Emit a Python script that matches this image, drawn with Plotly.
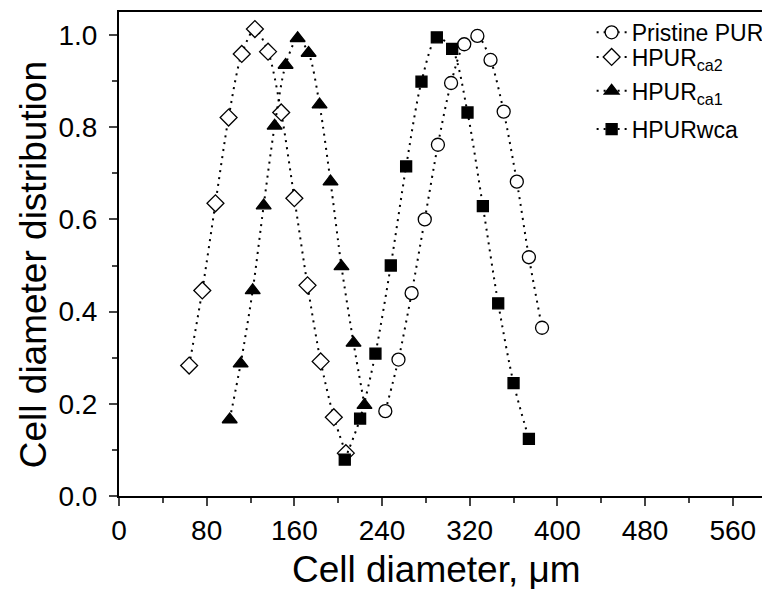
import plotly.graph_objects as go

pristine_x = [243, 255, 267, 279, 291, 303, 315, 327, 339, 351, 363, 374, 386]
pristine_y = [0.184, 0.296, 0.440, 0.600, 0.762, 0.896, 0.980, 0.998, 0.946, 0.834, 0.682, 0.518, 0.365]

ca2_x = [64, 76, 88, 100, 112, 124, 136, 148, 160, 172, 184, 196, 207]
ca2_y = [0.283, 0.446, 0.635, 0.821, 0.959, 1.013, 0.964, 0.832, 0.646, 0.457, 0.292, 0.171, 0.093]

ca1_x = [101, 111, 122, 132, 142, 152, 163, 173, 183, 193, 203, 214, 224]
ca1_y = [0.166, 0.287, 0.446, 0.630, 0.803, 0.935, 0.993, 0.961, 0.849, 0.682, 0.498, 0.332, 0.197]

wca_x = [206, 220, 234, 248, 262, 276, 290, 304, 318, 332, 346, 360, 374]
wca_y = [0.079, 0.168, 0.309, 0.500, 0.715, 0.899, 0.995, 0.970, 0.832, 0.629, 0.418, 0.245, 0.124]

x_ticks = [0, 80, 160, 240, 320, 400, 480, 560]
y_ticks = [0.0, 0.2, 0.4, 0.6, 0.8, 1.0]

x_title = "Cell diameter, μm"
y_title = "Cell diameter distribution"

FONT = "Arial, 'Liberation Sans', sans-serif"
line_style = dict(color="black", width=2, dash="2px,5px", shape="spline", smoothing=0.8)

series = [
    ("Pristine PUR", pristine_x, pristine_y, "circle", 13, "white"),
    ("HPUR<sub>ca2</sub>", ca2_x, ca2_y, "diamond", 13, "white"),
    ("HPUR<sub>ca1</sub>", ca1_x, ca1_y, "triangle-up", 13, "black"),
    ("HPURwca", wca_x, wca_y, "square", 11, "black"),
]
legend_ids = ["legend", "legend2", "legend3", "legend4"]
legend_rows = [0.958, 0.907, 0.837, 0.758]

fig = go.Figure()
for i, (name, xs, ys, sym, sz, fill) in enumerate(series):
    fig.add_trace(go.Scatter(
        x=xs, y=ys, name=name, mode="lines+markers",
        line=line_style, legend=legend_ids[i],
        marker=dict(symbol=sym, size=sz, color=fill,
                    line=dict(color="black", width=1.3)),
    ))

legend_common = dict(x=0.726, xanchor="left", yanchor="middle",
                     bgcolor="rgba(0,0,0,0)", borderwidth=0, font=dict(size=23))
legend_layout = {lid: dict(y=yy, **legend_common) for lid, yy in zip(legend_ids, legend_rows)}

fig.update_layout(
    width=770, height=599,
    margin=dict(l=111, r=8, t=4, b=111, autoexpand=False),
    plot_bgcolor="white", paper_bgcolor="white",
    font=dict(family=FONT, color="black", size=23),
    showlegend=True,
    **legend_layout,
    xaxis=dict(range=[0, 594], tickvals=x_ticks, ticks="outside", ticklen=8, tickwidth=2,
               showline=True, linewidth=2, linecolor="black", mirror=True,
               showgrid=False, zeroline=False, tickfont=dict(size=28), automargin=False,
               minor=dict(dtick=40, tick0=0, ticks="outside", ticklen=5, tickwidth=2)),
    yaxis=dict(range=[0, 1.05], tickvals=y_ticks, tickformat=".1f", ticks="outside", ticklen=8, tickwidth=2,
               showline=True, linewidth=2, linecolor="black", mirror=True,
               showgrid=False, zeroline=False, tickfont=dict(size=28), automargin=False,
               ticklabelstandoff=6,
               minor=dict(dtick=0.1, tick0=0, ticks="outside", ticklen=5, tickwidth=2)),
    annotations=[
        dict(text=x_title, xref="paper", yref="paper", x=0.487, y=-0.152,
             xanchor="center", yanchor="middle", showarrow=False, font=dict(size=37)),
        dict(text=y_title, xref="paper", yref="paper", x=-0.132, y=0.477,
             xanchor="center", yanchor="middle", showarrow=False, textangle=-90,
             font=dict(size=37)),
    ],
)

fig.write_html("out.html")
